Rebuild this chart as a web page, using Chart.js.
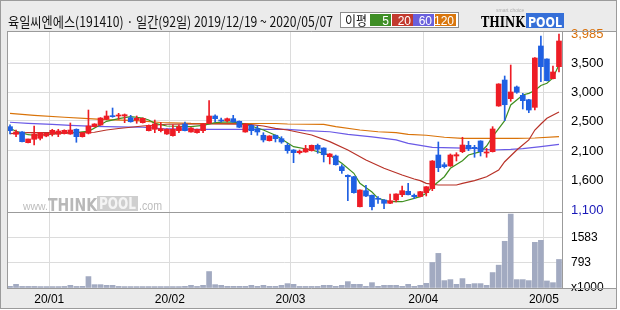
<!DOCTYPE html>
<html>
<head>
<meta charset="utf-8">
<script src="https://cdn.jsdelivr.net/npm/chart.js@4.4.1/dist/chart.umd.min.js"></script>
<style>
html, body { margin: 0; padding: 0; background: #fff; }
canvas { display: block; }
</style>
</head>
<body>
<canvas id="chart" width="620" height="310"></canvas>
<script>
const title = '육일씨엔에스(191410) · 일간(92일) 2019/12/19 ~ 2020/05/07';
const maLabels = ['5', '20', '60', '120'];
const monthLabels = ['20/01', '20/02', '20/03', '20/04', '20/05'];
const monthStarts = [7, 27, 47, 69, 89];

const opens = [2466, 2341, 2379, 2203, 2259, 2275, 2313, 2341, 2341, 2351, 2346, 2423, 2302, 2357, 2466, 2493, 2587, 2646, 2641, 2641,
  2613, 2575, 2531, 2400, 2423, 2400, 2346, 2318, 2400, 2510, 2379, 2367, 2400, 2521, 2641, 2575, 2564, 2597, 2554, 2379,
  2488, 2433, 2325, 2236, 2325, 2269, 2160, 2083, 2039, 2051, 2072, 2160, 2116, 1974, 1985, 1810, 1668, 1645, 1153, 1416,
  1341, 1291, 1263, 1209, 1263, 1350, 1406, 1341, 1320, 1383, 1449, 2001, 1842, 1821, 1985, 2056, 2160, 2127, 2231, 2034,
  2056, 2805, 3231, 2925, 3117, 2980, 2908, 2783, 3789, 3576, 3253, 3450];
const highs = [2498, 2411, 2385, 2264, 2477, 2367, 2360, 2423, 2423, 2415, 2526, 2430, 2370, 2739, 2515, 2615, 2723, 2772, 2685, 2674,
  2652, 2641, 2610, 2495, 2575, 2531, 2430, 2498, 2498, 2543, 2450, 2428, 2515, 2892, 2662, 2608, 2608, 2652, 2560, 2515,
  2495, 2477, 2367, 2318, 2330, 2302, 2193, 2090, 2083, 2160, 2165, 2181, 2120, 2025, 2000, 1842, 1675, 1650, 1430, 1505,
  1345, 1318, 1270, 1362, 1365, 1493, 1538, 1362, 1405, 1485, 1910, 2215, 1875, 2018, 2039, 2292, 2225, 2160, 2235, 2110,
  2466, 3170, 3297, 3477, 3133, 3013, 2915, 3600, 3953, 3580, 3461, 3985];
const lows = [2346, 2302, 2215, 2200, 2165, 2248, 2300, 2313, 2302, 2345, 2340, 2210, 2295, 2346, 2460, 2488, 2580, 2620, 2587, 2531,
  2540, 2521, 2525, 2395, 2367, 2379, 2340, 2310, 2367, 2395, 2375, 2360, 2367, 2515, 2543, 2543, 2543, 2540, 2450, 2375,
  2334, 2325, 2215, 2230, 2215, 2193, 2030, 1875, 2018, 2045, 2065, 2030, 1887, 1854, 1835, 1700, 1252, 1375, 1150, 1318,
  1100, 1209, 1121, 1205, 1230, 1318, 1345, 1285, 1315, 1329, 1416, 1728, 1788, 1815, 1903, 2039, 2072, 1964, 1985, 1964,
  2050, 2800, 2564, 2882, 3013, 2756, 2695, 2739, 3203, 3215, 3250, 3363];
const closes = [2400, 2379, 2220, 2264, 2346, 2367, 2357, 2406, 2395, 2406, 2411, 2302, 2367, 2477, 2510, 2608, 2641, 2630, 2657, 2662,
  2547, 2603, 2603, 2488, 2510, 2433, 2423, 2423, 2466, 2400, 2444, 2423, 2510, 2641, 2597, 2559, 2597, 2543, 2456, 2510,
  2400, 2379, 2248, 2313, 2269, 2215, 2072, 2039, 2062, 2105, 2160, 2095, 2006, 2018, 1842, 1744, 1645, 1383, 1427, 1329,
  1153, 1275, 1209, 1252, 1362, 1416, 1350, 1318, 1400, 1481, 1903, 1793, 1810, 2001, 2006, 2165, 2100, 2105, 2056, 2051,
  2428, 3166, 2826, 3035, 3030, 2892, 2739, 3592, 3450, 3220, 3363, 3871];
const volumes = [53, 116, 50, 50, 50, 45, 45, 45, 45, 50, 84, 50, 53, 358, 105, 105, 84, 84, 50, 45,
  45, 45, 45, 45, 45, 45, 45, 45, 45, 53, 84, 50, 84, 516, 105, 84, 53, 53, 53, 53,
  84, 53, 84, 53, 53, 84, 137, 116, 50, 50, 50, 50, 84, 84, 53, 84, 200, 116, 116, 53,
  168, 53, 84, 84, 84, 53, 116, 53, 84, 147, 800, 1085, 232, 263, 116, 295, 116, 137, 137, 84,
  484, 716, 1464, 2317, 263, 263, 232, 1432, 1495, 221, 168, 895];

// moving averages: [day index, price]
const ma5 = [[0, 2439], [1, 2390], [3, 2334], [4, 2325], [6, 2334], [8, 2357], [11, 2367], [12, 2379], [13, 2390], [15, 2498],
  [16, 2554], [18, 2597], [20, 2630], [22, 2608], [23, 2575], [24, 2521], [26, 2477], [30, 2466], [32, 2488], [34, 2531],
  [36, 2543], [38, 2531], [40, 2477], [42, 2411], [44, 2325], [45, 2264], [47, 2138], [50, 2083], [52, 2029], [53, 1996],
  [55, 1865], [57, 1701], [58, 1537], [60, 1395], [61, 1291], [63, 1235], [65, 1235], [67, 1291], [68, 1318], [69, 1373],
  [70, 1481], [72, 1645], [73, 1783], [75, 1908], [76, 2001], [78, 2056], [79, 2149], [80, 2302], [82, 2564], [83, 2822],
  [85, 2986], [86, 3013], [87, 3058], [88, 3141], [89, 3177], [90, 3265], [91, 3480]];
const ma20 = [[0, 2351], [3, 2367], [14, 2374], [16, 2411], [18, 2436], [22, 2477], [26, 2506], [33, 2510], [38, 2507], [40, 2498],
  [42, 2477], [44, 2439], [46, 2411], [50, 2329], [53, 2220], [56, 2083], [59, 1919], [62, 1783], [65, 1673], [67, 1608],
  [68, 1580], [69, 1537], [71, 1509], [74, 1509], [75, 1537], [77, 1580], [79, 1645], [81, 1755], [82, 1891], [84, 2083],
  [86, 2248], [87, 2411], [88, 2510], [89, 2603], [91, 2707]];
const ma60 = [[0, 2538], [3, 2521], [7, 2505], [10, 2488], [14, 2472], [18, 2461], [22, 2456], [25, 2433], [30, 2423], [40, 2423],
  [46, 2423], [49, 2400], [53, 2383], [56, 2341], [60, 2297], [64, 2248], [66, 2193], [68, 2160], [70, 2127], [77, 2110],
  [80, 2083], [83, 2092], [85, 2105], [88, 2138], [91, 2177]];
const ma120 = [[0, 2685], [4, 2652], [9, 2620], [13, 2597], [16, 2580], [21, 2564], [25, 2534], [30, 2521], [44, 2518], [46, 2510],
  [52, 2502], [54, 2466], [58, 2411], [61, 2383], [64, 2367], [66, 2341], [69, 2325], [72, 2292], [75, 2275], [84, 2275],
  [87, 2280], [91, 2302]];

const priceTicks = [1100, 1591, 2067, 2559, 3034, 3509, 3985];
const priceTickLabels = ['1,100', '1,600', '2,100', '2,500', '3,000', '3,500', '3,985'];
const volumeTicks = [0, 793, 1583];
const volumeTickLabels = ['x1000', '793', '1583'];

const UP = '#ee1c25';
const DOWN = '#1f60e2';
const VOL = '#a2aac1';
const maColors = ['#3f8f1f', '#b83228', '#6a5ae6', '#d97309'];
const legendColors = ['#3f8f26', '#c23a2e', '#6a60dc', '#d9760c'];
const GRID = '#dcdcdc';
const LINE = '#9b9b9b';

const days = opens.map((_, i) => i);
const candleColor = ctx => closes[ctx.dataIndex] >= opens[ctx.dataIndex] ? UP : DOWN;

function fitText(c, text, x, y, width) {
    const w = c.measureText(text).width;
    c.save();
    c.translate(x, y);
    c.scale(width / w, 1);
    c.fillText(text, 0, 0);
    c.restore();
}

const frame = {
    id: 'frame',
    beforeDraw(chart) {
        const c = chart.ctx;
        const a = chart.chartArea;
        c.save();
        c.fillStyle = '#fff';
        c.fillRect(0, 0, 620, 310);
        c.fillStyle = '#ebebeb';
        c.fillRect(0, 0, 617, 309);
        c.fillStyle = '#fff';
        c.fillRect(a.left, a.top, 616 - a.left, a.bottom - a.top);
        c.restore();
    },
    beforeDatasetsDraw(chart) {
        // watermark
        const c = chart.ctx;
        c.save();
        c.fillStyle = '#bdbdbd';
        c.font = '11px "Liberation Sans"';
        fitText(c, 'www.', 23, 210, 25);
        c.fillStyle = '#b8b8b8';
        c.font = 'bold 18px "DejaVu Sans"';
        fitText(c, 'THINK', 48, 211, 49);
        c.fillStyle = '#cfcfcf';
        c.fillRect(97, 196, 41, 15);
        c.fillStyle = '#f4f4f4';
        c.font = 'bold 15px "DejaVu Sans"';
        fitText(c, 'POOL', 99, 209, 37);
        c.fillStyle = '#bdbdbd';
        c.font = '12px "Liberation Sans"';
        fitText(c, '.com', 139, 210, 23);
        c.restore();
    },
    afterDraw(chart) {
        const c = chart.ctx;
        const a = chart.chartArea;
        const sep = chart.scales.y.bottom;
        c.save();
        c.strokeStyle = LINE;
        c.lineWidth = 1;
        c.strokeRect(0.5, 0.5, 616, 308);
        c.beginPath();
        c.moveTo(a.left + 0.5, a.top + 0.5);
        c.lineTo(616, a.top + 0.5);
        c.moveTo(a.left + 0.5, a.top);
        c.lineTo(a.left + 0.5, a.bottom + 1);
        c.moveTo(a.left, a.bottom + 0.5);
        c.lineTo(616, a.bottom + 0.5);
        c.moveTo(a.right + 0.5, a.top);
        c.lineTo(a.right + 0.5, a.bottom);
        c.moveTo(a.left, Math.round(sep) - 0.5);
        c.lineTo(a.right, Math.round(sep) - 0.5);
        c.stroke();

        // title
        c.fillStyle = '#111';
        c.font = '14px "Noto Sans CJK KR"';
        fitText(c, title, 8, 27, 325);

        // moving average legend
        c.fillStyle = '#fff';
        c.fillRect(340, 12, 119, 16);
        c.strokeStyle = '#8c8c8c';
        c.strokeRect(340.5, 12.5, 118, 15);
        c.fillStyle = '#111';
        c.font = '13px "Noto Sans CJK KR"';
        fitText(c, '이평', 345, 25, 22);
        const boxX = [370, 392, 413, 435];
        c.font = '12px "Liberation Sans"';
        c.textAlign = 'right';
        maLabels.forEach((t, k) => {
            c.fillStyle = legendColors[k];
            c.fillRect(boxX[k], 14, 21, 12);
            c.fillStyle = '#fff';
            c.fillText(t, boxX[k] + 19, 24.5);
        });
        c.textAlign = 'left';

        // logo
        c.fillStyle = '#000';
        c.font = 'bold 15px "DejaVu Serif"';
        fitText(c, 'THINK', 481, 27, 44);
        c.fillStyle = '#356fd8';
        c.fillRect(526, 13, 38, 15);
        c.fillStyle = '#fff';
        c.font = 'bold 14px "DejaVu Sans"';
        fitText(c, 'POOL', 528, 27, 34);
        c.fillStyle = '#b0b0b0';
        c.font = '5px "Liberation Sans"';
        c.fillText('smart choice', 496, 12);
        c.restore();
    }
};

Chart.defaults.font.family = '"Liberation Sans", Arial, sans-serif';
Chart.defaults.font.size = 12;
Chart.defaults.color = '#000';

const maSets = [ma5, ma20, ma60, ma120].map((pts, k) => ({
    type: 'line',
    data: pts.map(p => ({ x: p[0], y: p[1] })),
    borderColor: maColors[k],
    borderWidth: 1.2,
    pointRadius: 0,
    tension: 0,
    yAxisID: 'y',
    order: 5
}));

new Chart(document.getElementById('chart'), {
    type: 'bar',
    data: {
        datasets: [
            {
                data: days.map(i => ({ x: i, y: [opens[i], closes[i]] })),
                backgroundColor: candleColor,
                barThickness: 5,
                minBarLength: 1,
                grouped: false,
                yAxisID: 'y',
                order: 0
            },
            {
                data: days.map(i => ({ x: i, y: [lows[i], highs[i]] })),
                backgroundColor: candleColor,
                barThickness: 1,
                grouped: false,
                yAxisID: 'y',
                order: 1
            },
            {
                data: days.map(i => ({ x: i, y: volumes[i] })),
                backgroundColor: VOL,
                barThickness: 5,
                grouped: false,
                yAxisID: 'yv',
                order: 0
            },
            ...maSets
        ]
    },
    options: {
        responsive: false,
        maintainAspectRatio: false,
        devicePixelRatio: 1,
        animation: false,
        events: [],
        layout: { padding: { left: 7, top: 31, right: 4, bottom: 0 } },
        plugins: { legend: { display: false }, tooltip: { enabled: false } },
        scales: {
            x: {
                type: 'linear',
                min: -0.5,
                max: opens.length - 0.5,
                offset: false,
                afterFit: s => { s.height = 22; },
                afterBuildTicks: s => { s.ticks = monthStarts.map(d => ({ value: d - 0.5 })); },
                ticks: {
                    autoSkip: false,
                    maxRotation: 0,
                    padding: 4,
                    callback: (v, i) => monthLabels[i]
                },
                grid: { color: GRID, drawTicks: false, offset: false },
                border: { display: false }
            },
            y: {
                type: 'linear',
                position: 'right',
                stack: 'panels',
                stackWeight: 182,
                min: 1050,
                max: 4035,
                afterFit: s => { s.width = 54; },
                afterBuildTicks: s => { s.ticks = priceTicks.map(v => ({ value: v })); },
                ticks: {
                    autoSkip: false,
                    padding: 9,
                    font: { size: 13 },
                    callback: (v, i) => priceTickLabels[i],
                    color: ctx => ctx.index === priceTicks.length - 1 ? '#d9700a' : (ctx.index === 0 ? '#1818b8' : '#000')
                },
                grid: {
                    drawTicks: false,
                    color: ctx => (ctx.index === 0 || ctx.index === priceTicks.length - 1) ? 'rgba(0,0,0,0)' : GRID
                },
                border: { display: false }
            },
            yv: {
                type: 'linear',
                position: 'right',
                stack: 'panels',
                stackWeight: 75,
                min: 0,
                max: 2351,
                afterFit: s => { s.width = 54; },
                afterBuildTicks: s => { s.ticks = volumeTicks.map(v => ({ value: v })); },
                ticks: {
                    autoSkip: false,
                    padding: 9,
                    callback: (v, i) => volumeTickLabels[i]
                },
                grid: {
                    drawTicks: false,
                    color: ctx => ctx.index === 0 ? 'rgba(0,0,0,0)' : GRID
                },
                border: { display: false }
            }
        }
    },
    plugins: [frame]
});
</script>
</body>
</html>
